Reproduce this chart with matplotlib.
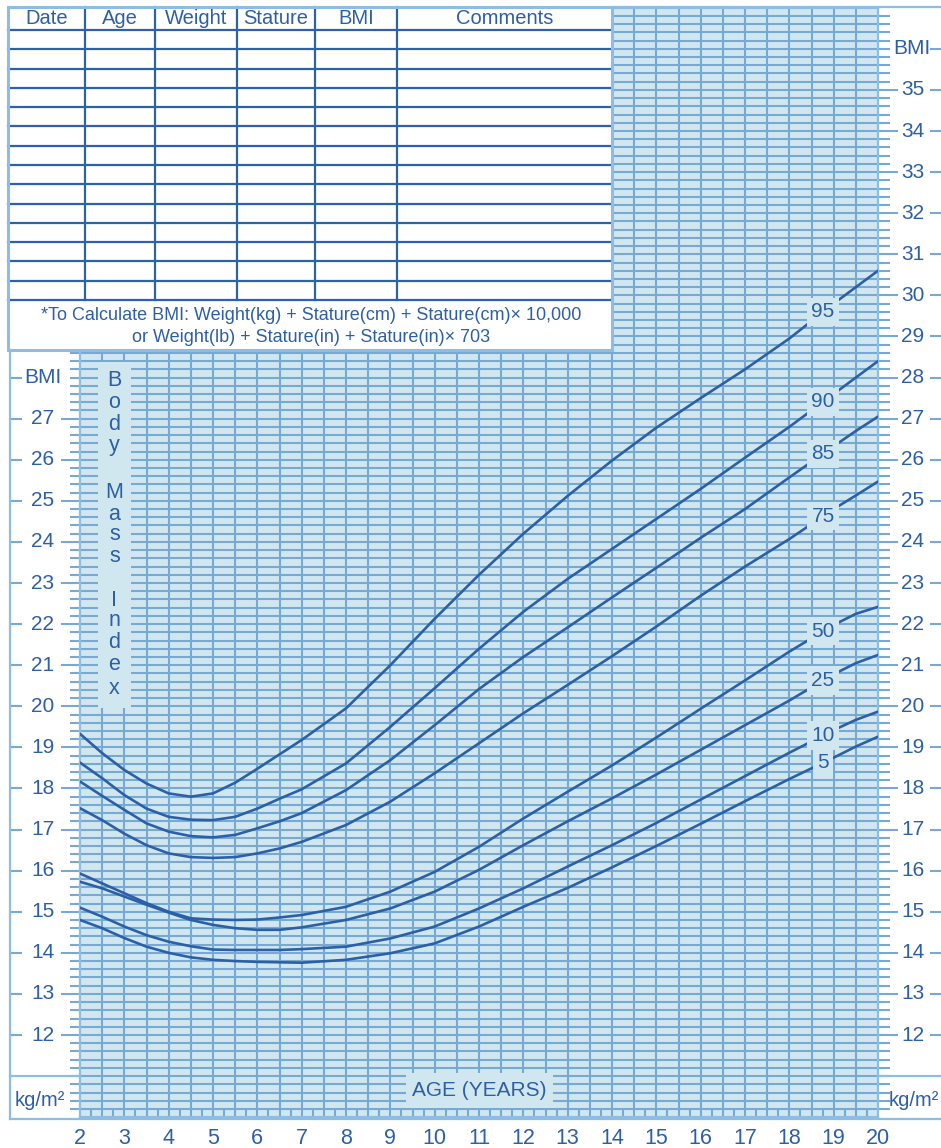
import numpy as np
import matplotlib
matplotlib.use("Agg")
import matplotlib.pyplot as plt
from matplotlib.patches import Rectangle

plt.rcParams['font.family'] = ['Liberation Sans', 'DejaVu Sans']

# ---------------- data ----------------
ages = [2, 2.5, 3, 3.5, 4, 4.5, 5, 5.5, 6, 6.5, 7, 8, 9, 10, 11, 12, 13, 14, 15, 16, 17, 18, 19, 19.5, 20]
p95 = [19.33, 18.86, 18.45, 18.12, 17.88, 17.80, 17.88, 18.14, 18.48, 18.83, 19.18, 19.95, 21.00, 22.13, 23.20, 24.20, 25.12, 25.98, 26.78, 27.50, 28.20, 28.95, 29.80, 30.20, 30.60]
p90 = [18.63, 18.25, 17.84, 17.51, 17.31, 17.24, 17.23, 17.31, 17.51, 17.75, 17.98, 18.61, 19.50, 20.44, 21.40, 22.30, 23.10, 23.83, 24.56, 25.29, 26.05, 26.80, 27.60, 28.00, 28.40]
p85 = [18.17, 17.82, 17.48, 17.15, 16.95, 16.84, 16.81, 16.87, 17.03, 17.20, 17.40, 17.96, 18.69, 19.54, 20.42, 21.20, 21.92, 22.65, 23.37, 24.10, 24.80, 25.57, 26.33, 26.70, 27.05]
p75 = [17.52, 17.23, 16.90, 16.62, 16.42, 16.33, 16.31, 16.33, 16.42, 16.54, 16.70, 17.11, 17.68, 18.37, 19.10, 19.83, 20.52, 21.22, 21.94, 22.69, 23.40, 24.07, 24.80, 25.13, 25.47]
p50 = [15.93, 15.69, 15.45, 15.21, 15.00, 14.84, 14.81, 14.80, 14.81, 14.86, 14.92, 15.12, 15.49, 15.97, 16.58, 17.27, 17.92, 18.56, 19.24, 19.94, 20.63, 21.33, 21.98, 22.25, 22.42]
p25 = [15.73, 15.57, 15.37, 15.17, 14.98, 14.80, 14.68, 14.60, 14.56, 14.56, 14.62, 14.80, 15.08, 15.49, 16.02, 16.62, 17.20, 17.76, 18.34, 18.94, 19.54, 20.14, 20.78, 21.05, 21.25]
p10 = [15.10, 14.88, 14.64, 14.43, 14.27, 14.16, 14.08, 14.07, 14.07, 14.07, 14.09, 14.15, 14.35, 14.64, 15.08, 15.57, 16.10, 16.62, 17.16, 17.73, 18.30, 18.87, 19.42, 19.67, 19.87]
p5 = [14.80, 14.60, 14.36, 14.15, 14.00, 13.89, 13.83, 13.80, 13.78, 13.77, 13.76, 13.83, 13.99, 14.23, 14.64, 15.12, 15.58, 16.08, 16.60, 17.14, 17.69, 18.23, 18.75, 19.02, 19.26]

percentile_names = ["95", "90", "85", "75", "50", "25", "10", "5"]
series = [p95, p90, p85, p75, p50, p25, p10, p5]

age_ticks = list(range(2, 21))
left_bmi_labels = list(range(12, 28))
right_bmi_labels = list(range(12, 36))
table_headers = ["Date", "Age", "Weight", "Stature", "BMI", "Comments"]
note_line1 = "*To Calculate BMI: Weight(kg) + Stature(cm) + Stature(cm)\u00d7 10,000"
note_line2 = "or Weight(lb) + Stature(in) + Stature(in)\u00d7 703"
side_title = "Body Mass Index"
x_title = "AGE (YEARS)"

# ---------------- style ----------------
FILL = '#d1e7f0'
GRID = '#76aad5'
CURVE = '#2b60a8'
TEXT = '#2d5fa5'
TLINE = '#2c63a8'
BORDER = '#8dbde2'

W, H = 941, 1148
fig = plt.figure(figsize=(W / 100, H / 100), dpi=100)
fig.patch.set_facecolor('white')

X0, X1 = 80, 878          # pixel x of age 2 and age 20
YT, YB = 7.75, 1117.2     # pixel y of BMI 37 and BMI 10
ax = fig.add_axes([X0 / W, 1 - YB / H, (X1 - X0) / W, (YB - YT) / H])
ax.set_xlim(2, 20)
ax.set_ylim(10, 37)
ax.set_facecolor(FILL)

def axfrac(px):
    return (px - X0) / (X1 - X0)

GLW = 1.5
# grid
hvals = np.round(np.arange(10.2, 36.81, 0.2), 2)
ax.hlines(hvals, 2, 20, color=GRID, lw=GLW, zorder=1)
vvals = np.arange(2.5, 20, 0.5)
ax.vlines(vvals, 10, 37, color=GRID, lw=GLW, zorder=1)
ax.vlines(np.arange(2.25, 20, 0.5), 10, 10.2, color=GRID, lw=GLW, zorder=1)

# tick extensions outside the grid
ytr = ax.get_yaxis_transform()
left_major = set(left_bmi_labels)
right_major = set(right_bmi_labels)
for v in hvals:
    iv = int(round(v)) if abs(v - round(v)) < 1e-6 else None
    if iv is not None and iv in left_major:
        ax.plot([axfrac(62), 0], [v, v], transform=ytr, color=GRID, lw=GLW, clip_on=False)
    else:
        ax.plot([axfrac(71), 0], [v, v], transform=ytr, color=GRID, lw=GLW, clip_on=False)
    if iv is not None and iv in right_major:
        ax.plot([1, axfrac(897)], [v, v], transform=ytr, color=GRID, lw=GLW, clip_on=False)
    else:
        ax.plot([1, axfrac(889)], [v, v], transform=ytr, color=GRID, lw=GLW, clip_on=False)

# labels and dashes
LFS = 15
for b in left_bmi_labels:
    ax.text(axfrac(43), b, str(b), transform=ytr, ha='center', va='center', fontsize=LFS, color=TEXT, clip_on=False)
    ax.plot([axfrac(12), axfrac(21)], [b, b], transform=ytr, color=GRID, lw=GLW, clip_on=False)
ax.text(axfrac(43), 28, "BMI", transform=ytr, ha='center', va='center', fontsize=LFS, color=TEXT, clip_on=False)
ax.plot([axfrac(12), axfrac(21)], [28, 28], transform=ytr, color=GRID, lw=GLW, clip_on=False)
for b in right_bmi_labels:
    ax.text(axfrac(913), b, str(b), transform=ytr, ha='center', va='center', fontsize=LFS, color=TEXT, clip_on=False)
    ax.plot([axfrac(931), axfrac(941)], [b, b], transform=ytr, color=GRID, lw=GLW, clip_on=False)
ax.text(axfrac(912), 36, "BMI", transform=ytr, ha='center', va='center', fontsize=LFS, color=TEXT, clip_on=False)
ax.plot([axfrac(931), axfrac(941)], [36, 36], transform=ytr, color=GRID, lw=GLW, clip_on=False)

# axes ticks
ax.set_xticks(age_ticks)
ax.set_xticklabels([str(a) for a in age_ticks], fontsize=15.5, color=TEXT)
ax.tick_params(axis='x', length=0, pad=8)
ax.set_yticks([])
for s in ax.spines.values():
    s.set_color(BORDER)
    s.set_linewidth(1.6)

# percentile curves
for name, vals in zip(percentile_names, series):
    ax.plot(ages, vals, color=CURVE, lw=1.9, zorder=3, solid_capstyle='round', solid_joinstyle='round')
    ly = np.interp(18.76, ages, vals)
    ax.text(18.76, ly, name, ha='center', va='center', fontsize=15, color=TEXT, zorder=5,
            bbox=dict(boxstyle='square,pad=0.22', facecolor=FILL, edgecolor='none'))

# ---------------- overlay (layout decorations, pixel coords) ----------------
ov = fig.add_axes([0, 0, 1, 1])
ov.set_zorder(5)
ov.patch.set_alpha(0)
ov.set_xlim(0, W)
ov.set_ylim(H, 0)
ov.axis('off')

# left / bottom / right frame lines
ov.plot([10, 10], [350, 1118.5], color=BORDER, lw=1.6)
ov.plot([10, 80], [1076, 1076], color=BORDER, lw=1.6)
ov.plot([10, 941], [1118.5, 1118.5], color=BORDER, lw=1.6)
ov.plot([878, 941], [1076, 1076], color=BORDER, lw=1.6)
ov.plot([612, 941], [7, 7], color=BORDER, lw=1.6)

# table
ov.add_patch(Rectangle((8, 7), 604, 343, facecolor='white', edgecolor='none', zorder=1))
rows = np.linspace(30, 300, 15)
for ry in rows:
    ov.plot([8, 612], [ry, ry], color=TLINE, lw=1.6, zorder=2)
cols = [8, 85, 155, 237, 315, 397, 612]
for cx in cols[1:-1]:
    ov.plot([cx, cx], [7, 300], color=TLINE, lw=1.6, zorder=2)
ov.add_patch(Rectangle((8, 7), 604, 343, facecolor='none', edgecolor=BORDER, lw=2.2, zorder=3))
for i, hname in enumerate(table_headers):
    cx = (cols[i] + cols[i + 1]) / 2
    ov.text(cx, 19, hname, ha='center', va='center', fontsize=14.5, color=TEXT, zorder=4)
ov.text(311, 315, note_line1, ha='center', va='center', fontsize=13, color=TEXT, zorder=4)
ov.text(311, 338, note_line2, ha='center', va='center', fontsize=13, color=TEXT, zorder=4)

# Body Mass Index vertical box
ov.add_patch(Rectangle((98, 362), 33, 346, facecolor=FILL, edgecolor='none', zorder=1))
letter_y = [380, 402, 424, 446, 492, 514, 535, 557, 600, 621, 643, 665, 688]
letters = [c for c in side_title if c != ' ']
for c, yy in zip(letters, letter_y):
    ov.text(114.5, yy, c, ha='center', va='center', fontsize=15.5, color=TEXT, zorder=4)

# AGE (YEARS) box
ov.add_patch(Rectangle((406, 1073), 147, 35, facecolor=FILL, edgecolor='none', zorder=1))
ov.text(479, 1091, x_title, ha='center', va='center', fontsize=15, color=TEXT, zorder=4)

# units
ov.text(40, 1100, "kg/m\u00b2", ha='center', va='center', fontsize=14.5, color=TEXT, zorder=4)
ov.text(889, 1100, "kg/m\u00b2", ha='left', va='center', fontsize=14.5, color=TEXT, zorder=4)

fig.savefig("out.png", dpi=100, facecolor='white')
